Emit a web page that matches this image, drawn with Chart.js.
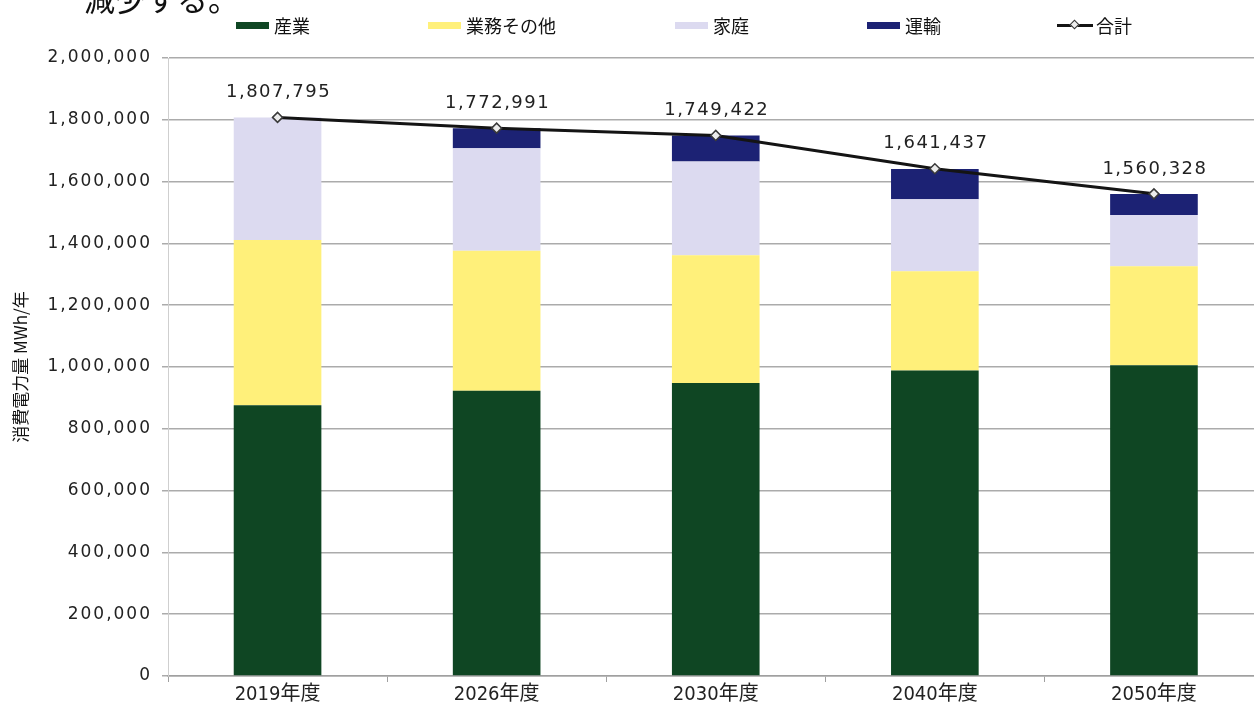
<!DOCTYPE html>
<html><head><meta charset="utf-8">
<script src="https://cdn.jsdelivr.net/npm/chart.js@4/dist/chart.umd.min.js"></script>
<style>
html,body{margin:0;padding:0;background:#fff;overflow:hidden;width:1254px;height:706px;}
#wrap{position:relative;width:1270px;height:706px;}
#c{position:absolute;left:0;top:0;}
.lead{position:absolute;left:84px;top:-18px;font-family:"Noto Sans CJK JP";font-size:31px;line-height:31px;color:#111;white-space:nowrap;}
.lg{position:absolute;top:14px;height:22px;display:flex;align-items:center;font-family:"Noto Sans CJK JP";font-size:18px;color:#111;white-space:nowrap;}
.sw{display:inline-block;width:33px;height:7px;margin-right:5px;box-sizing:border-box;}
.lsw{position:relative;display:inline-block;width:36px;height:10px;margin-right:3px;}
.lsw i{position:absolute;left:0;right:0;top:4px;height:3px;background:#141414;}
.lsw b{position:absolute;left:14px;top:1px;width:7px;height:7px;background:#eee;border:1.5px solid #333;transform:rotate(45deg);box-sizing:border-box;}
</style></head>
<body>
<div id="wrap">
<canvas id="c" width="1270" height="706"></canvas>
<div class="lead">減少する。</div>
<div id="legend"></div>
</div>
<script>
const categories = ['2019年度', '2026年度', '2030年度', '2040年度', '2050年度'];
const industry  = [876000, 923000, 948000, 989000, 1006000];
const business  = [535000, 453000, 414000, 321000, 320000];
const household = [396795, 332000, 303000, 233000, 166000];
const transport = [0, 65000, 84000, 98000, 68000];
const total     = [1807795, 1772991, 1749422, 1641437, 1560328];
const seriesNames = ['産業', '業務その他', '家庭', '運輸', '合計'];
const yTicks = [0, 200000, 400000, 600000, 800000, 1000000, 1200000, 1400000, 1600000, 1800000, 2000000];
const yTitle = '消費電力量 MWh/年';

const colors = ['#0f4623', '#fff07a', '#dcdaf0', '#1c2274', '#141414'];
const legendLeft = [236, 428, 675, 867, 1057];

const fmt = v => Number(v).toLocaleString('en-US');

const totalLabels = {
  id: 'totalLabels',
  afterDatasetsDraw(chart) {
    const ctx = chart.ctx;
    const meta = chart.getDatasetMeta(4);
    const data = chart.data.datasets[4].data;
    ctx.save();
    ctx.font = '18px "DejaVu Sans"';
    ctx.fillStyle = '#222';
    ctx.textAlign = 'center';
    ctx.textBaseline = 'middle';
    try { ctx.letterSpacing = '1.5px'; } catch (e) {}
    meta.data.forEach((pt, i) => {
      ctx.fillText(fmt(data[i]), pt.x + 1, pt.y - 25);
    });
    ctx.restore();
  }
};

const ySpacing = {
  id: 'ySpacing',
  beforeDraw(chart) {
    const y = chart.scales.y;
    if (!y.__patched) {
      const orig = y.drawLabels;
      y.drawLabels = function (a) {
        const c = this.ctx;
        c.save();
        try { c.letterSpacing = '2px'; } catch (e) {}
        orig.call(this, a);
        c.restore();
      };
      y.__patched = true;
    }
  }
};

const barDs = (i, data) => ({
  type: 'bar', label: seriesNames[i], data: data,
  backgroundColor: colors[i], borderWidth: 0, order: 1, stack: 'energy',
  categoryPercentage: 1.0, barPercentage: 0.4
});

const chart = new Chart(document.getElementById('c'), {
  data: {
    labels: categories,
    datasets: [
      barDs(0, industry),
      barDs(1, business),
      barDs(2, household),
      barDs(3, transport),
      {
        type: 'line', label: seriesNames[4], data: total, stack: 'total', order: 0,
        borderColor: colors[4], borderWidth: 3, tension: 0,
        pointStyle: 'rectRot', pointRadius: 5, pointBackgroundColor: '#ececec',
        pointBorderColor: '#3a3a3a', pointBorderWidth: 1.5
      }
    ]
  },
  options: {
    responsive: false,
    animation: false,
    devicePixelRatio: 1,
    layout: { padding: { top: 58, right: 5, left: 0, bottom: 0 } },
    plugins: { legend: { display: false }, tooltip: { enabled: false } },
    scales: {
      x: {
        stacked: true,
        grid: { display: true, drawOnChartArea: false, drawTicks: true, tickLength: 6, color: '#a0a0a0', offset: true },
        border: { display: true, color: '#a0a0a0', width: 1.5 },
        ticks: { font: { family: '"Liberation Sans Narrow","DejaVu Sans Condensed","Noto Sans CJK JP"', size: 20 }, color: '#222', padding: 1, maxRotation: 0 },
        afterFit: s => { s.height = 30; }
      },
      y: {
        stacked: true, min: 0, max: 2000000,
        afterBuildTicks: s => { s.ticks = yTicks.map(v => ({ value: v })); },
        afterFit: s => { s.width = 168; },
        grid: { color: '#ababab', lineWidth: 1.5, tickLength: 6, drawTicks: true },
        border: { display: true, color: '#cfcfcf', width: 1 },
        ticks: { padding: 10, font: { family: '"DejaVu Sans"', size: 17 }, color: '#222', callback: v => fmt(v) },
        title: { display: true, text: yTitle, font: { family: '"Noto Sans CJK JP"', size: 17 }, color: '#111', padding: { top: 10, bottom: 0 } }
      }
    }
  },
  plugins: [totalLabels, ySpacing]
});

// legend built from the chart's datasets
const lg = document.getElementById('legend');
chart.data.datasets.forEach((ds, i) => {
  const item = document.createElement('div');
  item.className = 'lg';
  item.style.left = legendLeft[i] + 'px';
  let sw;
  if (ds.type === 'line') {
    sw = document.createElement('span');
    sw.className = 'lsw';
    sw.innerHTML = '<i></i><b></b>';
  } else {
    sw = document.createElement('span');
    sw.className = 'sw';
    sw.style.background = ds.backgroundColor;
  }
  item.appendChild(sw);
  const t = document.createElement('span');
  t.textContent = ds.label;
  item.appendChild(t);
  lg.appendChild(item);
});
</script>
</body></html>
